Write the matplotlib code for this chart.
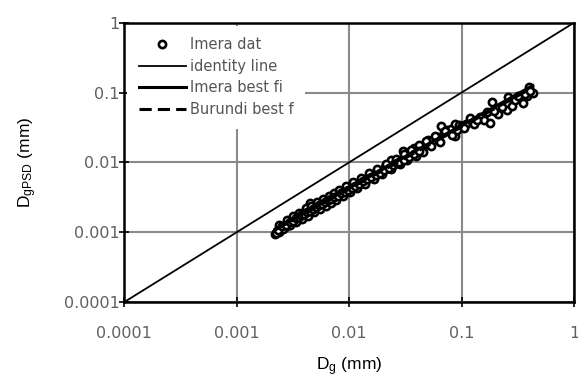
import matplotlib
matplotlib.use("Agg")
import matplotlib.pyplot as plt
import numpy as np

plt.rcParams["mathtext.fontset"] = "custom"
plt.rcParams["mathtext.rm"] = "Liberation Sans"
plt.rcParams["mathtext.it"] = "Liberation Sans"

# Imera data
imera_x = [0.0022, 0.0023, 0.0024, 0.0025, 0.0026, 0.0027, 0.0028, 0.0029, 0.0030, 0.0031,
           0.0032, 0.0033, 0.0034, 0.0035, 0.0036, 0.0037, 0.0038, 0.0039, 0.0040, 0.0041,
           0.0042, 0.0043, 0.0044, 0.0045, 0.0046, 0.0047, 0.0048, 0.0050, 0.0051, 0.0052,
           0.0054, 0.0055, 0.0056, 0.0058, 0.0060, 0.0062, 0.0064, 0.0066, 0.0068, 0.0070,
           0.0072, 0.0075, 0.0078, 0.0080, 0.0083, 0.0086, 0.0090, 0.0093, 0.0097, 0.0100,
           0.0105, 0.0110, 0.0115, 0.0120, 0.0125, 0.0130, 0.0140, 0.0150, 0.0160, 0.0170,
           0.0180, 0.0190, 0.0200, 0.0210, 0.0220, 0.0237, 0.0250, 0.0270, 0.0290, 0.0300,
           0.0320, 0.0340, 0.0360, 0.0380, 0.0400, 0.0430, 0.0460, 0.0500, 0.0520, 0.0560,
           0.0600, 0.0660, 0.0700, 0.0750, 0.0800, 0.0866, 0.0880, 0.0950, 0.1000, 0.1100,
           0.1300, 0.1450, 0.1600, 0.1780, 0.1850, 0.2100, 0.2520, 0.2800, 0.3000, 0.3500,
           0.3800, 0.4000, 0.4300,
           0.00225, 0.0024, 0.0026, 0.0028, 0.0030, 0.0032, 0.0034, 0.0036, 0.0038, 0.0041,
           0.0043, 0.0046, 0.0049, 0.0052, 0.0055, 0.0059, 0.0062, 0.0066, 0.0069, 0.0073,
           0.0077, 0.0082, 0.0088, 0.0094, 0.0102, 0.0108, 0.0118, 0.0128, 0.0138, 0.0150,
           0.0165, 0.0178, 0.0195, 0.0215, 0.0235, 0.0260, 0.0285, 0.0310, 0.0330, 0.0355,
           0.0390, 0.0420, 0.0450, 0.0480, 0.0540, 0.0580, 0.0640, 0.0720, 0.0820, 0.0920,
           0.1050, 0.1200, 0.1380, 0.1700, 0.1950, 0.2300, 0.2600, 0.3200, 0.3700, 0.4100,
           0.00235, 0.00255, 0.00275, 0.00295, 0.00315, 0.00335, 0.00355, 0.00375, 0.00395, 0.00425,
           0.00445, 0.00475, 0.00505, 0.00535, 0.00570, 0.00605, 0.00650, 0.00690, 0.00740, 0.00790,
           0.00850, 0.00910, 0.00980, 0.01060, 0.01130, 0.01230, 0.01340, 0.01450, 0.01580, 0.01720,
           0.01870, 0.02050, 0.02250, 0.02450, 0.02650, 0.02800, 0.03050, 0.03400, 0.03750, 0.04150]
imera_y = [0.00095, 0.00105, 0.00100, 0.00112, 0.00120, 0.00118, 0.00130, 0.00125, 0.00138, 0.00148,
           0.00142, 0.00155, 0.00150, 0.00162, 0.00158, 0.00170, 0.00165, 0.00190, 0.00180, 0.00178,
           0.00192, 0.00185, 0.00200, 0.00260, 0.00205, 0.00215, 0.00208, 0.00225, 0.00240, 0.00230,
           0.00245, 0.00270, 0.00250, 0.00262, 0.00265, 0.00285, 0.00275, 0.00300, 0.00290, 0.00310,
           0.00330, 0.00320, 0.00345, 0.00340, 0.00365, 0.00355, 0.00390, 0.00380, 0.00420, 0.00410,
           0.00450, 0.00460, 0.00490, 0.00480, 0.00530, 0.00520, 0.00570, 0.00600, 0.00680, 0.00660,
           0.00740, 0.00720, 0.00780, 0.00850, 0.00830, 0.01100, 0.00960, 0.01050, 0.01100, 0.01440,
           0.01250, 0.01300, 0.01400, 0.01600, 0.01500, 0.01650, 0.01750, 0.02100, 0.01900, 0.02100,
           0.02300, 0.03300, 0.02700, 0.02900, 0.03000, 0.03500, 0.02350, 0.03400, 0.03300, 0.03600,
           0.03500, 0.04500, 0.04100, 0.03700, 0.07400, 0.05000, 0.05700, 0.06500, 0.07900, 0.07200,
           0.08800, 0.12200, 0.10000,
           0.00098, 0.00128, 0.00110, 0.00150, 0.00125, 0.00172, 0.00140, 0.00190, 0.00155, 0.00220,
           0.00172, 0.00240, 0.00195, 0.00270, 0.00215, 0.00300, 0.00240, 0.00330, 0.00265, 0.00365,
           0.00290, 0.00400, 0.00330, 0.00455, 0.00375, 0.00520, 0.00430, 0.00600, 0.00490, 0.00700,
           0.00580, 0.00800, 0.00680, 0.00950, 0.00800, 0.01120, 0.00950, 0.01300, 0.01080, 0.01500,
           0.01250, 0.01750, 0.01420, 0.02000, 0.01700, 0.02350, 0.01950, 0.02800, 0.02500, 0.02900,
           0.03100, 0.04300, 0.04000, 0.05200, 0.05400, 0.06200, 0.08500, 0.09000, 0.09500, 0.10500,
           0.00108, 0.00122, 0.00128, 0.00140, 0.00146, 0.00158, 0.00165, 0.00176, 0.00182, 0.00196,
           0.00202, 0.00218, 0.00228, 0.00242, 0.00252, 0.00270, 0.00285, 0.00300, 0.00318, 0.00335,
           0.00360, 0.00378, 0.00405, 0.00432, 0.00458, 0.00495, 0.00535, 0.00572, 0.00618, 0.00665,
           0.00712, 0.00775, 0.00840, 0.00905, 0.00970, 0.01020, 0.01100, 0.01210, 0.01330, 0.01460]

# identity line endpoints
identity_x = [0.0001, 1.0]
identity_y = [0.0001, 1.0]

# best-fit power laws y = a * x^b
fit_x = [0.0022, 0.43]
imera_a, imera_b = 0.27, 0.90
burundi_a, burundi_b = 0.25, 0.89

x_ticks = [0.0001, 0.001, 0.01, 0.1, 1]
x_tick_labels = ["0.0001", "0.001", "0.01", "0.1", "1"]
y_ticks = [0.0001, 0.001, 0.01, 0.1, 1]
y_tick_labels = ["0.0001", "0.001", "0.01", "0.1", "1"]

fig = plt.figure(figsize=(5.78, 3.79), dpi=100)
ax = fig.add_axes([0.215, 0.203, 0.778, 0.737])
ax.set_xscale("log")
ax.set_yscale("log")
ax.set_xlim(0.0001, 1)
ax.set_ylim(0.0001, 1)

ax.grid(True, which="major", color="#8a8a8a", linewidth=1.5)
ax.minorticks_off()
ax.set_axisbelow(True)

fx = np.array(fit_x)
ax.plot(imera_x, imera_y, linestyle="none", marker="o", markersize=5.2,
        markerfacecolor="white", markeredgecolor="black", markeredgewidth=1.9,
        label="Imera dat", zorder=3)
ax.plot(identity_x, identity_y, color="black", linewidth=1.3, label="identity line", zorder=4)
ax.plot(fx, imera_a * fx ** imera_b, color="black", linewidth=2.2, label="Imera best fi", zorder=4)
ax.plot(fx, burundi_a * fx ** burundi_b, color="black", linewidth=2.2, linestyle=(0, (4, 2)),
        label="Burundi best f", zorder=4)

for s in ax.spines.values():
    s.set_linewidth(1.8)
    s.set_color("black")

ax.set_xticks(x_ticks)
ax.set_xticklabels(x_tick_labels)
ax.set_yticks(y_ticks)
ax.set_yticklabels(y_tick_labels)
ax.tick_params(axis="both", which="major", direction="inout", length=7, width=1.2,
               labelsize=11.5, labelcolor="#606060")
ax.tick_params(axis="x", pad=14)
ax.tick_params(axis="y", pad=0)

ax.set_xlabel(r"D$_{\rm g}$ (mm)", fontsize=12.5, family="Liberation Sans", labelpad=10)
ax.set_ylabel(r"D$_{\rm gPSD}$ (mm)", fontsize=12.5, family="Liberation Sans", labelpad=18)

leg = ax.legend(loc="upper left", frameon=True, fancybox=False, framealpha=1,
                edgecolor="none", facecolor="white", fontsize=10.5, handlelength=3.2,
                handletextpad=0.3, labelspacing=0.45, borderaxespad=0.2, borderpad=0.8)
for t in leg.get_texts():
    t.set_color("#555555")
leg.set_zorder(5)

fig.savefig("out.png", dpi=100)
